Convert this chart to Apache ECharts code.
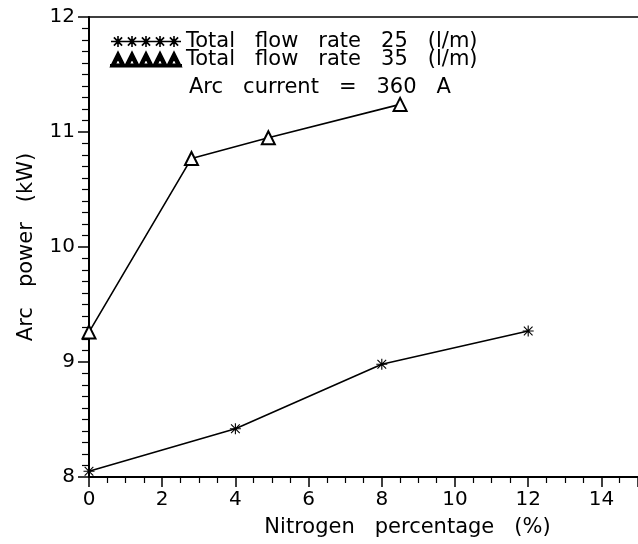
<!DOCTYPE html>
<html>
<head>
<meta charset="utf-8">
<script src="https://cdn.jsdelivr.net/npm/echarts@6/dist/echarts.min.js"></script>
<style>
html,body{margin:0;padding:0;background:#fff;}
#chart{width:638px;height:544px;}
</style>
</head>
<body>
<div id="chart"></div>
<script>
const seriesNames = ['Total   flow   rate   25   (l/m)', 'Total   flow   rate   35   (l/m)'];
const nitrogen25 = [0, 4, 8, 12];
const power25 = [8.05, 8.42, 8.98, 9.27];
const nitrogen35 = [0, 2.8, 4.9, 8.5];
const power35 = [9.26, 10.77, 10.95, 11.24];
const xTicks = [0, 2, 4, 6, 8, 10, 12, 14];
const yTicks = [8, 9, 10, 11, 12];
const note = 'Arc   current   =   360   A';

const FONT = 'DejaVu Sans';
const starPath = 'M9 0 L11 0 L11 20 L9 20 Z M0 9 L20 9 L20 11 L0 11 Z M1.4 2.8 L2.8 1.4 L18.6 17.2 L17.2 18.6 Z M17.2 1.4 L18.6 2.8 L2.8 18.6 L1.4 17.2 Z';
function starLegend() {
  let p = 'M0 6.3 L70 6.3 L70 7.7 L0 7.7 Z';
  for (let i = 0; i < 5; i++) {
    const c = 7 + i * 14, s = 5.5;
    p += ` M${c-0.8} ${7-s} L${c+0.8} ${7-s} L${c+0.8} ${7+s} L${c-0.8} ${7+s} Z`;
    p += ` M${c-s} ${6.2} L${c+s} 6.2 L${c+s} 7.8 L${c-s} 7.8 Z`;
    p += ` M${c-s+0.8} ${7-s+2} L${c-s+2} ${7-s+0.8} L${c+s-0.8} ${7+s-2} L${c+s-2} ${7+s-0.8} Z`;
    p += ` M${c+s-2} ${7-s+0.8} L${c+s-0.8} ${7-s+2} L${c-s+2} ${7+s-0.8} L${c-s+0.8} ${7+s-2} Z`;
  }
  return 'path://' + p;
}
function triLegend() {
  let p = 'M0 12.5 L70 12.5 L70 14 L0 14 Z';
  for (let i = 0; i < 5; i++) {
    const x = i * 14;
    p += ` M${x} 14 L${x+7} 0 L${x+14} 14 Z M${x+3.8} 12 L${x+10.2} 12 L${x+7} 5.5 Z`;
  }
  return 'path://' + p;
}

const chart = echarts.init(document.getElementById('chart'), null, {renderer: 'canvas'});
const axisText = {color: '#000', fontFamily: FONT, fontSize: 20};
chart.setOption({
  backgroundColor: '#fff',
  animation: false,
  title: {
    text: note, left: 184, top: 72,
    textStyle: {color: '#000', fontFamily: FONT, fontSize: 21, fontWeight: 'normal'}
  },
  legend: {
    orient: 'vertical', left: 105, top: 26, itemGap: -3,
    itemWidth: 70, itemHeight: 14,
    textStyle: {color: '#000', fontFamily: FONT, fontSize: 21},
    data: [
      {name: seriesNames[0], icon: starLegend()},
      {name: seriesNames[1], icon: triLegend()}
    ]
  },
  grid: {left: 89, right: -2, top: 17, bottom: 67},
  xAxis: [{
    type: 'value', min: 0, max: 15, interval: 2,
    name: 'Nitrogen   percentage   (%)', nameLocation: 'middle', nameGap: 40,
    nameTextStyle: Object.assign({}, axisText, {fontSize: 21, padding: [0, 0, 0, 88]}),
    axisLine: {lineStyle: {color: '#000', width: 2}},
    axisTick: {inside: false, length: 10, lineStyle: {color: '#000', width: 1.5}},
    minorTick: {show: true, splitNumber: 4, length: 6, lineStyle: {color: '#000', width: 1.2}},
    axisLabel: Object.assign({}, axisText, {margin: 13, showMaxLabel: false,
      formatter: v => xTicks.includes(v) ? String(v) : ''}),
    splitLine: {show: false}
  }, {
    type: 'value', position: 'top', min: 0, max: 15,
    axisLine: {show: true, onZero: false, lineStyle: {color: '#000', width: 1.5}},
    axisTick: {show: false}, axisLabel: {show: false}, splitLine: {show: false}
  }],
  yAxis: {
    type: 'value', min: 8, max: 12, interval: 1,
    name: 'Arc   power   (kW)', nameLocation: 'middle', nameGap: 52,
    nameTextStyle: Object.assign({}, axisText, {fontSize: 21, padding: [0, 0, 0, 0]}),
    axisLine: {lineStyle: {color: '#000', width: 2}},
    axisTick: {inside: false, length: 11, lineStyle: {color: '#000', width: 1.5}},
    minorTick: {show: true, splitNumber: 10, length: 7, lineStyle: {color: '#000', width: 1.2}},
    axisLabel: Object.assign({}, axisText, {margin: 14,
      formatter: v => yTicks.includes(v) ? String(v) : ''}),
    splitLine: {show: false}
  },
  series: [{
    name: seriesNames[0], type: 'line',
    data: nitrogen25.map((x, i) => [x, power25[i]]),
    symbol: 'path://' + starPath, symbolSize: 11,
    lineStyle: {color: '#000', width: 1.6},
    itemStyle: {color: '#000'}
  }, {
    name: seriesNames[1], type: 'line',
    data: nitrogen35.map((x, i) => [x, power35[i]]),
    symbol: 'emptyTriangle', symbolSize: 13,
    lineStyle: {color: '#000', width: 1.6},
    itemStyle: {color: '#000', borderColor: '#000', borderWidth: 2.5}
  }]
});
</script>
</body>
</html>
